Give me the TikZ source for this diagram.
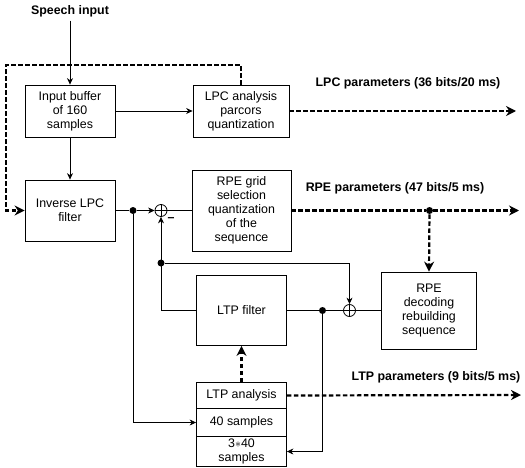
\documentclass[tikz,border=0pt]{standalone}
\usepackage{fontspec}
\setmainfont{Liberation Sans}
\usetikzlibrary{arrows.meta}
\usetikzlibrary{positioning}

\begin{document}
\begin{tikzpicture}[x=1pt,y=-1pt,node distance=10pt,on grid,>={Stealth[length=6.5pt,width=6pt]},line width=0.8pt,
		block/.style={rectangle,draw=black,inner sep=0pt,align=center,font=\fontsize{12.4}{14}\selectfont},
		sum/.style={circle,draw=black,minimum size=12pt,inner sep=0pt,
			path picture={\draw[line width=0.8pt] (path picture bounding box.north) -- (path picture bounding box.south)
				(path picture bounding box.west) -- (path picture bounding box.east);}},
		dot/.style={circle,fill=black,inner sep=0pt,minimum size=7pt},
		param/.style={font=\bfseries\fontsize{12.4}{14}\selectfont},
		bus/.style={line width=2.2pt,dash pattern=on 4.5pt off 2.5pt,-{Stealth[length=10pt,width=10pt]}}]
		\useasboundingbox (0,0) rectangle (525,468);
		\node[param]  (speech)  at (70,11)   {Speech input};
		
		\node[block,minimum width=90pt,minimum height=52pt]  (buf)  at (70,111)  {Input buffer\\of 160\\samples};
		\node[block,minimum width=96pt,minimum height=52pt]  (lpc)  [right=171pt of buf]  {LPC analysis\\parcors\\quantization};
		\node[block,minimum width=90pt,minimum height=61pt]  (inv)  [below=99.5pt of buf]  {Inverse LPC\\filter};
		\node[block,minimum width=99pt,minimum height=81pt]  (rpe)  [right=171.5pt of inv]  {RPE grid\\selection\\quantization\\of the\\sequence};
		\node[block,minimum width=90pt,minimum height=70pt]  (ltpf) [below=100pt of rpe]  {LTP filter};
		\node[block,minimum width=95pt,minimum height=77pt]  (dec)  [right=187.5pt of ltpf]  {RPE\\decoding\\rebuilding\\sequence};
		\node[block,minimum width=90pt,minimum height=26pt]  (ltpa) [below=85pt of ltpf]  {LTP analysis};
		\node[block,minimum width=90pt,minimum height=28pt]  (s40)  [below=27pt of ltpa]  {40 samples};
		\node[block,minimum width=90pt,minimum height=30pt]  (s120) [below=29pt of s40]  {3$*$40\\samples};
		
		\node[sum]  (s1)  [right=91pt of inv]  {};
		\node[sum]  (s2)  [right=108pt of ltpf] {};
		\node[dot]  (d1)  [right=63pt of inv]  {};
		\node[dot]  (d2)  [below=52.5pt of s1] {};
		\node[dot]  (d3)  [right=81pt of ltpf] {};
		\node[dot]  (d4)  [right=188pt of rpe] {};
		\node[param]  (minus)  at (171,220)  {--};
		
		\node[param]  (lpcpar)  at (408,83)   {LPC parameters (36 bits/20 ms)};
		\node[param]  (rpepar)  at (395,188)  {RPE parameters (47 bits/5 ms)};
		\node[param]  (ltppar)  at (436,377)  {LTP parameters (9 bits/5 ms)};
		
		\coordinate (fbtop)  at (6,65);
		\coordinate (lpcout) at (516,111);
		\coordinate (rpeout) at (519,210.5);
		\coordinate (ltpout) at (521,395);
		
		% solid signal paths
		\draw[->] (speech) -- (buf);
		\draw[->] (buf) -- (lpc);
		\draw[->] (buf) -- (inv);
		\draw (inv) -- (d1);
		\draw[->] (d1) -- (s1);
		\draw (s1) -- (rpe);
		\draw[->] (ltpf.west) -| (s1.south);
		\draw[->] (d2) -| (s2.north);
		\draw (dec) -- (s2);
		\draw (s2) -- (ltpf);
		\draw[->] (d3) |- (s120.east);
		\draw[->] (d1) |- (s40.west);
		
		% parameter paths
		\draw[bus] (lpc.north) |- (fbtop) |- (inv.west);
		\draw[bus] (lpc.east) -- (lpcout);
		\draw[bus,-] (rpe.east) -- (d4);
		\draw[bus] (d4) -- (rpeout);
		\draw[bus] (d4) -- (dec.north);
		\draw[bus] (ltpa.north) -- (ltpf.south);
		\draw[bus] (ltpa.east) -- (ltpout);
\end{tikzpicture}
\end{document}
